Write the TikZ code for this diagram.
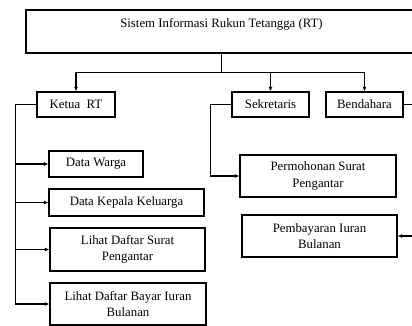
\documentclass[tikz,border=0pt]{standalone}
\usepackage{fontspec}
\setmainfont{Liberation Serif}
\usetikzlibrary{arrows.meta}
\begin{document}
\begin{tikzpicture}[x=1pt,y=-1pt,
  box/.style={draw, line width=1.2pt, align=center, inner sep=0pt,
    font=\fontsize{12.8}{16.5}\selectfont},
  conn/.style={line width=1.1pt},
  arr/.style={line width=1.1pt, -{Latex[length=4.5pt,width=4pt]}}]
\useasboundingbox (0,0) rectangle (412,326);
\clip (0,0) rectangle (412,326);

% root and first level
\node[box, minimum width=391pt, minimum height=43pt] (top) at (221.5,31.5)
  {Sistem Informasi Rukun Tetangga (RT)\\\mbox{}};
\node[box, minimum width=78pt, minimum height=25pt] (ketua) at (76,104.5) {Ketua\ \ RT};
\node[box, minimum width=77pt, minimum height=25pt] (sek) at (270.5,104.5) {Sekretaris};
\node[box, minimum width=77pt, minimum height=25pt] (bend) at (364.5,104.5) {Bendahara};

% Ketua RT menu
\node[box, minimum width=94pt, minimum height=26pt] (warga) at (96,164) {Data Warga};
\node[box, minimum width=155pt, minimum height=27pt] (kk) at (126.5,202.5) {Data Kepala Keluarga};
\node[box, minimum width=155pt, minimum height=43pt] (lds) at (127.5,249.5) {Lihat Daftar Surat\\Pengantar};
\node[box, minimum width=156pt, minimum height=42pt] (ldb) at (128,304) {Lihat Daftar Bayar Iuran\\Bulanan};

% Sekretaris and Bendahara menus
\node[box, minimum width=156pt, minimum height=42pt] (perm) at (318,176) {Permohonan Surat\\Pengantar};
\node[box, minimum width=155pt, minimum height=42pt] (pemb) at (319.5,236) {Pembayaran Iuran\\Bulanan};

% connectors from the root
\draw[conn] (top.south) -- ++(0,19) coordinate (bus);
\draw[arr] (bus) -| (ketua.north);
\draw[arr] (bus) -| (sek.north);
\draw[arr] (bus) -| (bend.north);

% Ketua RT branches
\draw[arr] (ketua.west) -- ++(-21,0) |- (warga.west);
\draw[arr] (ketua.west) -- ++(-21,0) |- (kk.west);
\draw[arr] (ketua.west) -- ++(-21,0) |- (lds.west);
\draw[arr] (ketua.west) -- ++(-21,0) |- (ldb.west);

% Sekretaris and Bendahara branches
\draw[arr] (sek.west) -- ++(-21,0) |- (perm.west);
\draw[arr] (bend.east) -- ++(17,0) |- (pemb.east);
\end{tikzpicture}
\end{document}
